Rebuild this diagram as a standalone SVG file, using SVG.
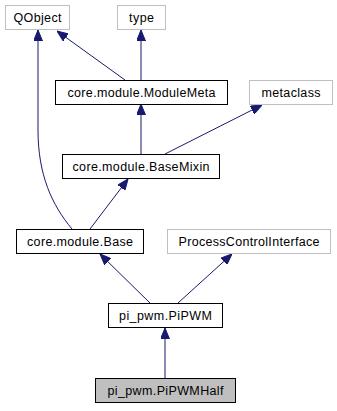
<svg xmlns="http://www.w3.org/2000/svg" width="337" height="411" viewBox="0 0 337 411">
  <style>
    .box rect { stroke: #000; stroke-width: 1; fill: #fff; }
    .ext rect { stroke: #bfbfbf; }
    .cur rect { fill: #bfbfbf; }
    text { font-family: "Liberation Sans", Arial, Helvetica, sans-serif; font-size: 12.5px; fill: #000; text-anchor: middle; }
    .edge { fill: none; stroke: #191970; stroke-width: 1; marker-end: url(#arrow); }
  </style>
  <defs>
    <marker id="arrow" viewBox="0 0 11 9" refX="11" refY="4.5" markerWidth="11" markerHeight="9" markerUnits="userSpaceOnUse" orient="auto">
      <path d="M0,0 L11,4.5 L0,9 z" fill="#191970" stroke="#191970" stroke-width="1"/>
    </marker>
  </defs>
  <rect width="337" height="411" fill="#fff"/>

  <!-- inheritance edges, child to parent -->
  <g id="edges">
    <path class="edge" d="M125,80 L57,31"/>
    <path class="edge" d="M141,80 L141,30"/>
    <path class="edge" d="M141,154 L141,104"/>
    <path class="edge" d="M165,154 L262,105"/>
    <path class="edge" d="M72,229 C52,205 38,175 38,130 L38,30"/>
    <path class="edge" d="M90,229 L128,179"/>
    <path class="edge" d="M150,303 L100,254"/>
    <path class="edge" d="M178,303 L232,254"/>
    <path class="edge" d="M165,378 L165,328"/>
  </g>

  <g id="QObject" class="box ext">
    <rect x="5.5" y="5.5" width="64" height="24"/>
    <text x="37.5" y="22" textLength="48" lengthAdjust="spacing">QObject</text>
  </g>
  <g id="type" class="box ext">
    <rect x="117.5" y="5.5" width="48" height="24"/>
    <text x="141.5" y="22" textLength="25" lengthAdjust="spacing">type</text>
  </g>
  <g id="ModuleMeta" class="box">
    <rect x="55.5" y="80.5" width="172" height="24"/>
    <text x="141.5" y="97" textLength="148" lengthAdjust="spacing">core.module.ModuleMeta</text>
  </g>
  <g id="metaclass" class="box ext">
    <rect x="249.5" y="80.5" width="83" height="24"/>
    <text x="291" y="97" textLength="59" lengthAdjust="spacing">metaclass</text>
  </g>
  <g id="BaseMixin" class="box">
    <rect x="62.5" y="154.5" width="157" height="24"/>
    <text x="141" y="171" textLength="137" lengthAdjust="spacing">core.module.BaseMixin</text>
  </g>
  <g id="Base" class="box">
    <rect x="16.5" y="229.5" width="127" height="24"/>
    <text x="80" y="246" textLength="106" lengthAdjust="spacing">core.module.Base</text>
  </g>
  <g id="ProcessControlInterface" class="box ext">
    <rect x="167.5" y="229.5" width="163" height="24"/>
    <text x="249" y="246" textLength="141" lengthAdjust="spacing">ProcessControlInterface</text>
  </g>
  <g id="PiPWM" class="box">
    <rect x="108.5" y="303.5" width="114" height="24"/>
    <text x="165.5" y="320" textLength="93" lengthAdjust="spacing">pi_pwm.PiPWM</text>
  </g>
  <g id="PiPWMHalf" class="box cur">
    <rect x="95.5" y="378.5" width="140" height="24"/>
    <text x="165.5" y="395" textLength="116" lengthAdjust="spacing">pi_pwm.PiPWMHalf</text>
  </g>
</svg>
